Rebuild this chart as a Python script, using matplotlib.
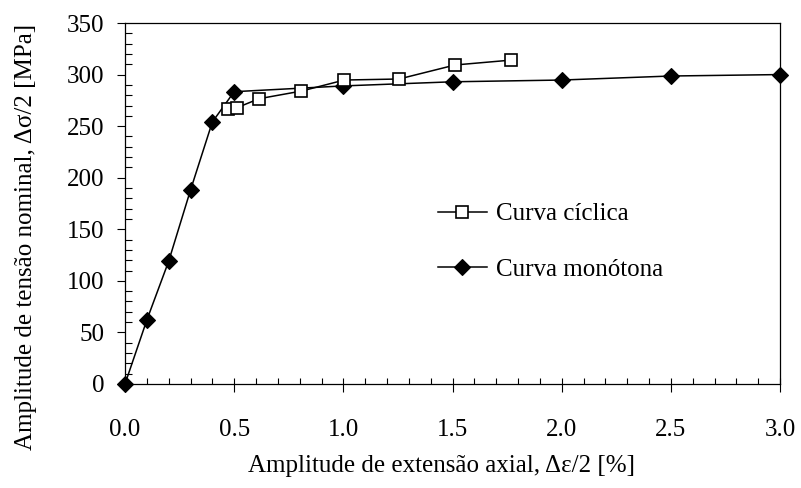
import matplotlib
matplotlib.use("Agg")
import matplotlib.pyplot as plt
from matplotlib.ticker import MultipleLocator, FormatStrFormatter

# Cyclic stress-strain curve (amplitudes)
ciclica_x = [0.47, 0.514, 0.614, 0.808, 1.004, 1.255, 1.512, 1.767]
ciclica_y = [266.6, 268.0, 276.6, 284.0, 294.7, 295.7, 309.3, 314.0]

# Monotonic stress-strain curve
monotona_x = [0.0, 0.1, 0.2, 0.3, 0.4, 0.5, 1.0, 1.5, 2.0, 2.5, 3.0]
monotona_y = [0.0, 62.0, 119.0, 188.0, 254.0, 283.4, 289.0, 293.0, 294.7, 298.6, 300.0]

labels = ["Curva cíclica", "Curva monótona"]

plt.rcParams["font.family"] = ["Liberation Serif", "DejaVu Serif"]
plt.rcParams["mathtext.fontset"] = "stix"

W, H = 801, 488
fig = plt.figure(figsize=(W / 100, H / 100), dpi=100)
ax = fig.add_axes([125 / W, 1 - 384 / H, (780 - 125) / W, (384 - 23) / H])

ax.plot(monotona_x, monotona_y, color="black", lw=1.1, marker="D", ms=8,
        mfc="black", mec="black", mew=0.8, label=labels[1], zorder=3,
        clip_on=False)
ax.plot(ciclica_x, ciclica_y, color="black", lw=1.1, marker="s", ms=8.6,
        mfc="white", mec="black", mew=1.2, label=labels[0], zorder=4,
        clip_on=False)

ax.set_xlim(0, 3.0)
ax.set_ylim(0, 350)

ax.xaxis.set_major_locator(MultipleLocator(0.5))
ax.xaxis.set_minor_locator(MultipleLocator(0.1))
ax.xaxis.set_major_formatter(FormatStrFormatter("%.1f"))
ax.xaxis.remove_overlapping_locs = False
ax.yaxis.set_major_locator(MultipleLocator(50))
ax.yaxis.set_minor_locator(MultipleLocator(10))

ax.tick_params(axis="x", which="major", direction="out", length=6, width=0.8,
               labelsize=18, pad=19)
ax.tick_params(axis="x", which="minor", direction="in", length=4.3, width=0.8)
ax.tick_params(axis="y", which="major", direction="out", length=6, width=0.8,
               labelsize=18, pad=9)
ax.tick_params(axis="y", which="minor", direction="in", length=5, width=0.8)

for s in ax.spines.values():
    s.set_linewidth(0.9)
    s.set_color("black")

handles, lbls = ax.get_legend_handles_labels()
order = [1, 0]
ax.legend([handles[i] for i in order], [lbls[i] for i in order],
          loc="upper left", bbox_to_anchor=((438 - 125) / 655, (384 - 203) / 361),
          frameon=False, fontsize=18, handlelength=1.95, handletextpad=0.35,
          labelspacing=1.3, borderpad=0, borderaxespad=0)

fig.text(441.5 / W, 1 - 466 / H, "Amplitude de extensão axial, Δε/2 [%]",
         ha="center", va="center", fontsize=18)
fig.text(26 / W, 1 - 237 / H, "Amplitude de tensão nominal, Δσ/2 [MPa]",
         ha="center", va="center", rotation=90, fontsize=18)

fig.savefig("out.png", dpi=100)
